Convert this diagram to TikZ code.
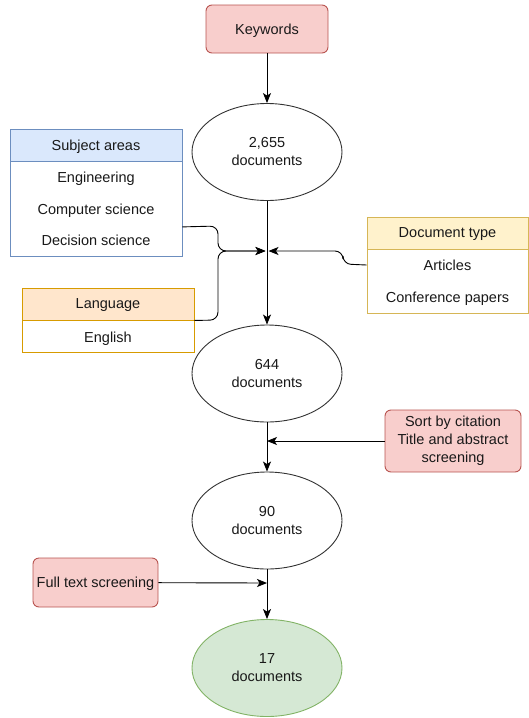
\documentclass[tikz,border=0pt]{standalone}
\usepackage{fontspec}
\setmainfont{Liberation Sans}
\usetikzlibrary{shapes.geometric,arrows.meta,calc}

\definecolor{redfill}{HTML}{F8CECC}\definecolor{redline}{HTML}{B85450}
\definecolor{bluefill}{HTML}{DAE8FC}\definecolor{blueline}{HTML}{6C8EBF}
\definecolor{orangefill}{HTML}{FFE6CC}\definecolor{orangeline}{HTML}{D79B00}
\definecolor{yellowfill}{HTML}{FFF2CC}\definecolor{yellowline}{HTML}{D6B656}
\definecolor{greenfill}{HTML}{D5E8D4}\definecolor{greenline}{HTML}{82B366}

\begin{document}
\begin{tikzpicture}[x=1pt,y=-1pt,
  every node/.style={font=\fontsize{14.5}{18}\selectfont, text=black!90, inner sep=0pt},
  redbox/.style={draw=redline, fill=redfill, rounded corners=6pt, line width=0.9pt, align=center},
  onerow/.style={text depth=0pt},
  docs/.style={ellipse, draw=black!80, fill=white, line width=0.9pt, minimum width=150pt, minimum height=97pt, align=center},
  final/.style={docs, draw=greenline, fill=greenfill},
  tabhead/.style={draw, line width=0.9pt, onerow},
  tabbody/.style={draw, fill=white, line width=0.9pt},
  flow/.style={draw=black, line width=0.9pt, -{Stealth[length=10pt,width=8pt,inset=2.5pt]}},
  feed/.style={flow, rounded corners=8pt},
  item/.style={onerow}
]
\useasboundingbox (0,0) rectangle (529,718);

% main chain
\node[redbox, onerow, minimum width=122pt, minimum height=48pt] (kw) at (267,29) {Keywords};
\node[docs] (d1) at (267,152) {2,655\\documents};
\node[docs] (d2) at (267,373.5) {644\\documents};
\node[docs] (d3) at (267,520.5) {90\\documents};
\node[final] (d4) at (267,668) {17\\documents};

% subject areas table
\node[tabhead, draw=blueline, fill=bluefill, minimum width=172pt, minimum height=32pt] (subjh) at (96,145) {Subject areas};
\node[tabbody, draw=blueline, minimum width=172pt, minimum height=95pt, anchor=north] (subjb) at (subjh.south) {};
\node[item] (s1) at (96,177) {Engineering};
\node[item] (s2) at (96,209) {Computer science};
\node[item] (s3) at (96,240) {Decision science};

% language table
\node[tabhead, draw=orangeline, fill=orangefill, minimum width=172pt, minimum height=32pt] (langh) at (108,304) {Language};
\node[tabbody, draw=orangeline, minimum width=172pt, minimum height=32pt, anchor=north] (langb) at (langh.south) {};
\node[item] (l1) at (langb) {English};

% document type table
\node[tabhead, draw=yellowline, fill=yellowfill, minimum width=161pt, minimum height=32pt] (typeh) at (447.5,233) {Document type};
\node[tabbody, draw=yellowline, minimum width=161pt, minimum height=64pt, anchor=north] (typeb) at (typeh.south) {};
\node[item] (t1) at (447.5,265) {Articles};
\node[item] (t2) at (447.5,297) {Conference papers};

% screening steps
\node[redbox, minimum width=136pt, minimum height=62pt] (sort) at (453,441) {Sort by citation\\Title and abstract\\screening};
\node[redbox, onerow, minimum width=125pt, minimum height=49pt] (full) at (95.5,582.5) {Full text screening};

% junction points on the main line
\coordinate (jl) at (265.5,251);
\coordinate (jr) at (268.5,251);
\coordinate (j2) at (267,441);
\coordinate (j3) at (267,583);

% connectors
\draw[flow] (kw) -- (d1);
\draw[flow] (d1) -- (d2);
\draw[flow] (d2) -- (d3);
\draw[flow] (d3) -- (d4);
\draw[feed] ([yshift=-17.5pt]subjb.east) -- (218,226) -- (218,251) -- (jl);
\draw[feed] (langb.north east) -- (218,320) -- (218,251) -- (jl);
\draw[feed] (typeb.west |- t1) -- (343,264) -- (343,251) -- (jr);
\draw[flow] (sort) -- (j2);
\draw[flow] (full) -- (j3);
\end{tikzpicture}
\end{document}
